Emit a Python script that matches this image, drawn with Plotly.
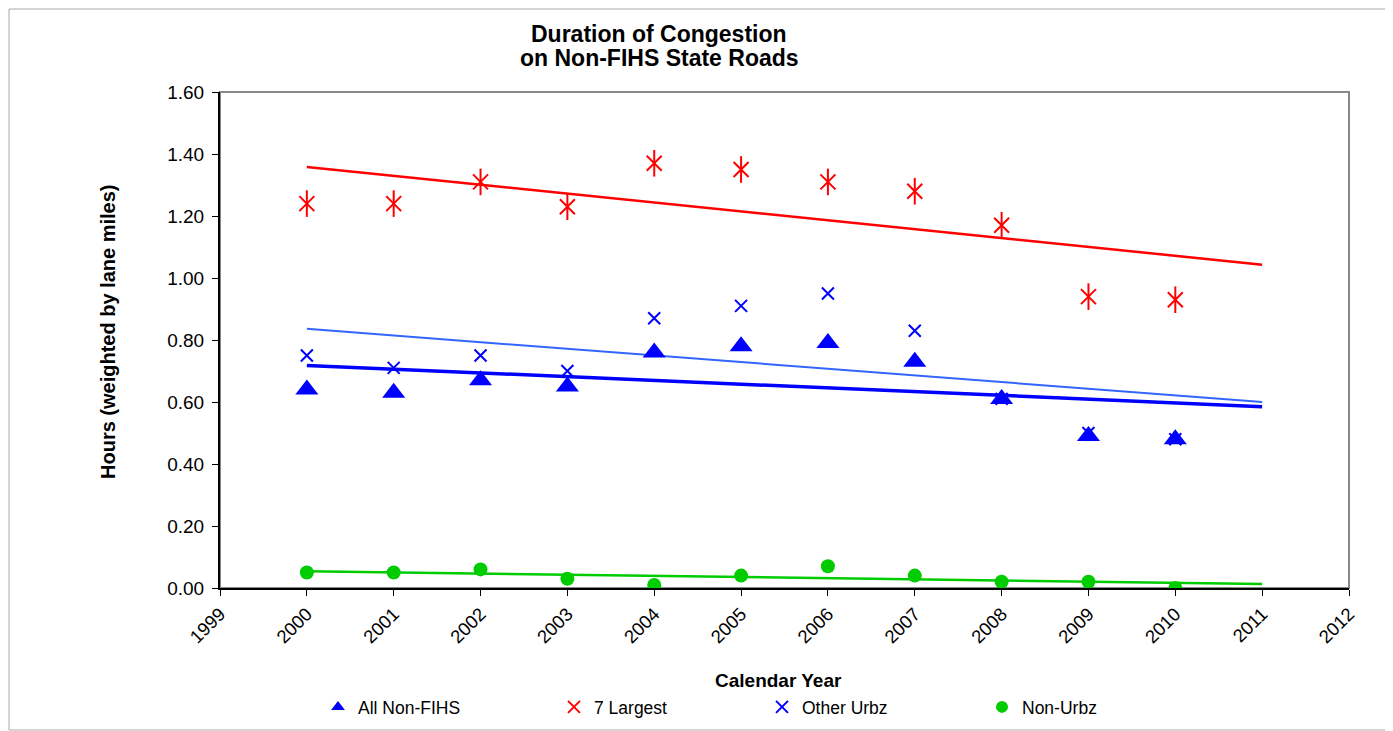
import plotly.graph_objects as go

# data
years = [2000, 2001, 2002, 2003, 2004, 2005, 2006, 2007, 2008, 2009, 2010]
all_non_fihs = [0.64, 0.63, 0.67, 0.65, 0.76, 0.78, 0.79, 0.73, 0.61, 0.49, 0.48]
seven_largest = [1.24, 1.24, 1.31, 1.23, 1.37, 1.35, 1.31, 1.28, 1.17, 0.94, 0.93]
other_urbz = [0.75, 0.71, 0.75, 0.70, 0.87, 0.91, 0.95, 0.83, 0.61, 0.50, 0.48]
non_urbz = [0.05, 0.05, 0.06, 0.03, 0.01, 0.04, 0.07, 0.04, 0.02, 0.02, 0.00]

# trend lines (start / end values as drawn)
trend_years = [2000, 2011]
trend_all = [0.718, 0.585]
trend_seven = [1.358, 1.043]
trend_other = [0.836, 0.600]
trend_non = [0.054, 0.013]

FONT = "Liberation Sans, Arial, sans-serif"
RED = "#FF0000"
BLUE = "#0000FF"
LBLUE = "#3366FF"
GREEN = "#00CC00"

# page is offset by the 8px body margin, so work in page pixels and shift
OFF = 8
W, H = 1393 - OFF, 731 - OFF
L, R, T, B = 220, 1349, 92, 588   # plot area in page pixels
PW, PH = R - L, B - T


def px(x):
    return (x - L) / PW


def py(y):
    return (B - y) / PH


fig = go.Figure()

# trend lines
fig.add_trace(go.Scatter(x=trend_years, y=trend_seven, mode="lines",
                         line=dict(color=RED, width=2.5), showlegend=False, hoverinfo="skip"))
fig.add_trace(go.Scatter(x=trend_years, y=trend_other, mode="lines",
                         line=dict(color=LBLUE, width=2), showlegend=False, hoverinfo="skip"))
fig.add_trace(go.Scatter(x=trend_years, y=trend_all, mode="lines",
                         line=dict(color=BLUE, width=3.5), showlegend=False, hoverinfo="skip"))
fig.add_trace(go.Scatter(x=trend_years, y=trend_non, mode="lines",
                         line=dict(color=GREEN, width=2.5), showlegend=False, hoverinfo="skip"))

# markers
fig.add_trace(go.Scatter(x=years, y=all_non_fihs, mode="markers", name="All Non-FIHS",
                         marker=dict(symbol="triangle-up", size=20, color=BLUE),
                         legend="legend"))
fig.add_trace(go.Scatter(x=years, y=seven_largest, mode="markers", name="7 Largest",
                         marker=dict(symbol="x-thin-open", size=15, color=RED,
                                     line=dict(color=RED, width=2)),
                         legend="legend2", legendgroup="seven"))
fig.add_trace(go.Scatter(x=years, y=seven_largest, mode="markers", name="7 Largest",
                         marker=dict(symbol="line-ns-open", size=19, color=RED,
                                     line=dict(color=RED, width=2)),
                         legend="legend2", legendgroup="seven", showlegend=False))
fig.add_trace(go.Scatter(x=years, y=other_urbz, mode="markers", name="Other Urbz",
                         marker=dict(symbol="x-thin-open", size=12, color=BLUE,
                                     line=dict(color=BLUE, width=2)),
                         legend="legend3"))
fig.add_trace(go.Scatter(x=years, y=non_urbz, mode="markers", name="Non-Urbz",
                         marker=dict(symbol="circle", size=14, color=GREEN),
                         legend="legend4"))

# legends placed one per entry, like the original
leg_y = 1 - (707 - OFF) / H
leg_common = dict(orientation="h", yref="container", yanchor="middle", y=leg_y,
                  xanchor="left", bgcolor="rgba(0,0,0,0)", borderwidth=0,
                  itemsizing="constant", font=dict(family=FONT, size=17.5, color="black"))
text_starts = [356, 592, 800, 1020]
names = ["legend", "legend2", "legend3", "legend4"]
legends = {n: dict(leg_common, x=px(s - 38)) for n, s in zip(names, text_starts)}

fig.update_layout(
    width=W, height=H,
    margin=dict(l=L - OFF, r=W - (R - OFF), t=T - OFF, b=H - (B - OFF)),
    paper_bgcolor="white", plot_bgcolor="white",
    font=dict(family=FONT, size=18, color="black"),
    showlegend=True,
    **legends,
    xaxis=dict(range=[1999, 2012], dtick=1, tick0=1999, tickangle=-45,
               showgrid=False, zeroline=False, showline=True, linecolor="black", linewidth=2,
               ticks="outside", ticklen=6, tickcolor="black", automargin=False,
               tickfont=dict(family=FONT, size=18.5)),
    yaxis=dict(range=[0, 1.6], dtick=0.2, tickformat=".2f",
               showgrid=False, zeroline=False, showline=True, linecolor="black", linewidth=2,
               ticks="outside", ticklen=6, tickcolor="black", ticklabelstandoff=4,
               automargin=False, tickfont=dict(family=FONT, size=19)),
    shapes=[
        # grey plot-area frame (top/right)
        dict(type="rect", xref="x domain", yref="y domain", x0=0, x1=1, y0=0, y1=1,
             line=dict(color="#888888", width=2), layer="below"),
        # outer chart border
        dict(type="rect", xref="paper", yref="paper", x0=px(9), x1=px(1389),
             y0=py(730), y1=py(9), line=dict(color="#AAAAAA", width=1)),
    ],
    annotations=[
        dict(text="<b>Duration of Congestion</b>",
             xref="paper", yref="paper", x=px(659), y=py(34), showarrow=False,
             xanchor="center", yanchor="middle", font=dict(family=FONT, size=23)),
        dict(text="<b>on Non-FIHS State Roads</b>",
             xref="paper", yref="paper", x=px(659), y=py(58), showarrow=False,
             xanchor="center", yanchor="middle", font=dict(family=FONT, size=23)),
        dict(text="<b>Calendar Year</b>", xref="paper", yref="paper", x=px(778), y=py(680),
             showarrow=False, xanchor="center", yanchor="middle", font=dict(family=FONT, size=19)),
        dict(text="<b>Hours (weighted by lane miles)</b>", xref="paper", yref="paper",
             x=px(108), y=py(332), textangle=-90, showarrow=False,
             xanchor="center", yanchor="middle", font=dict(family=FONT, size=20)),
    ],
)

fig.write_html("out.html")
